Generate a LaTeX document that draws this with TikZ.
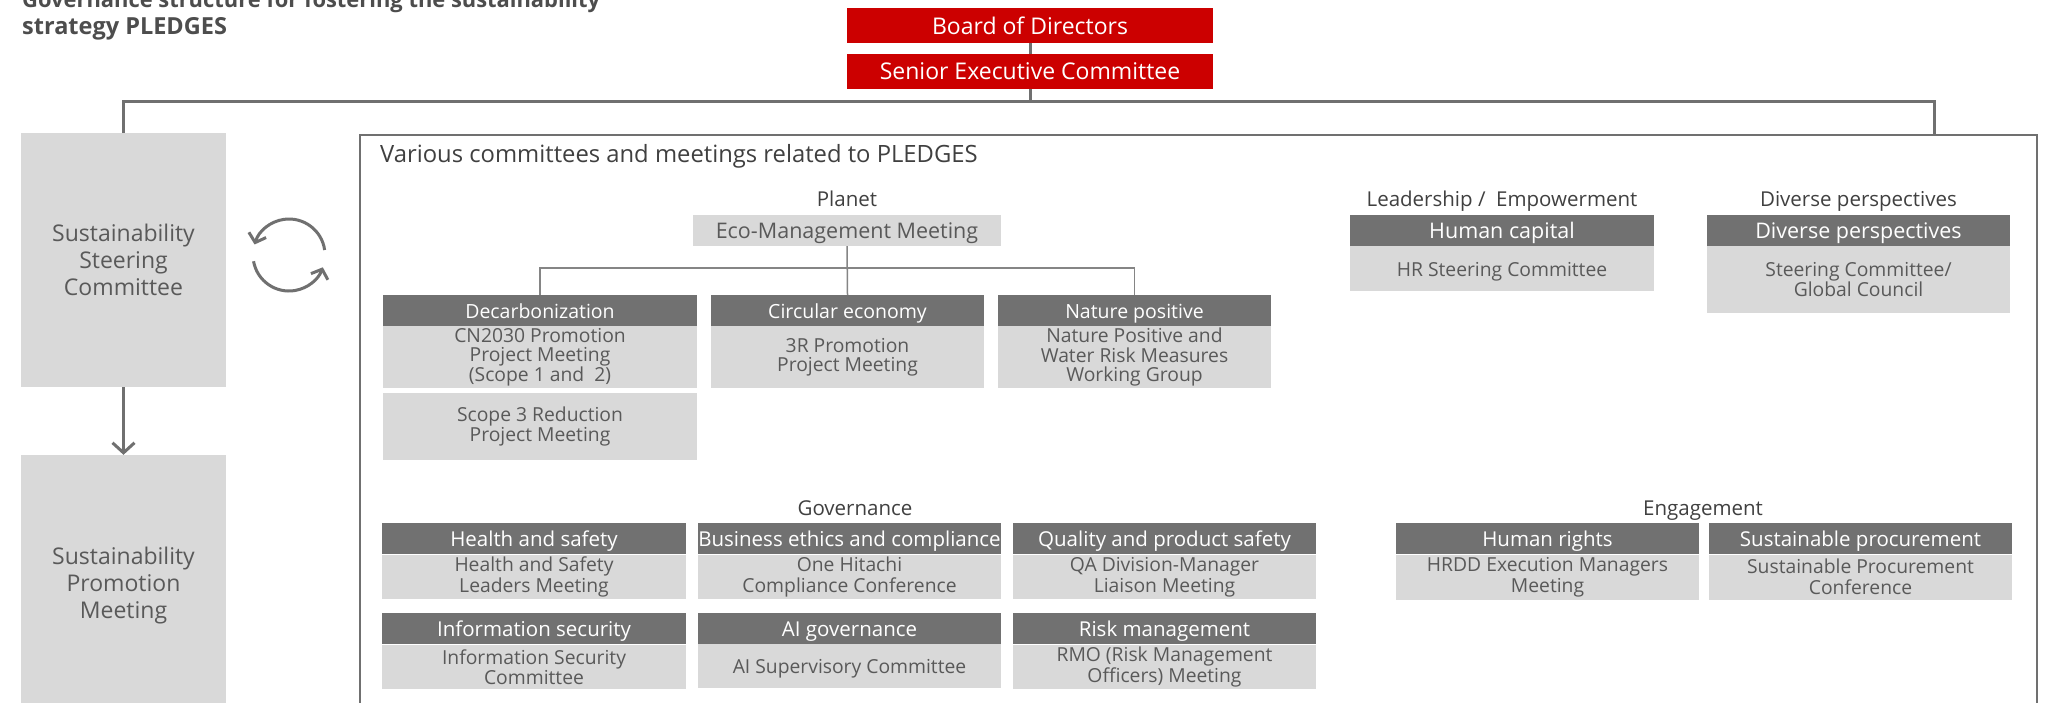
\documentclass[tikz,border=0pt]{standalone}
\usepackage{fontspec}
\setmainfont{Open Sans}
\usetikzlibrary{arrows.meta}
\definecolor{hred}{HTML}{CC0000}
\definecolor{dgray}{HTML}{717171}
\definecolor{lgray}{HTML}{D9D9D9}
\definecolor{tgray}{HTML}{595959}
\definecolor{lblc}{HTML}{404040}
\definecolor{linec}{HTML}{707070}
\definecolor{titlec}{HTML}{4D4D4D}
\tikzset{
  redbox/.style={fill=hred, text=white, inner sep=0pt, minimum width=366pt, minimum height=35pt, font=\fontsize{23}{27}\selectfont},
  sidebox/.style={fill=lgray, text=tgray, inner sep=0pt, align=center, minimum width=205pt, font=\fontsize{23}{27}\selectfont},
  hdr/.style={fill=dgray, text=white, inner sep=0pt, minimum height=31pt, text height=20pt, text depth=3.6pt, font=\fontsize{20.5}{24}\selectfont},
  bdy/.style={fill=lgray, text=tgray, inner sep=0pt, align=center, font=\fontsize{19.3}{20.5}\selectfont},
  onel/.style={text height=18.5pt, text depth=3.2pt},
  lbl/.style={text=lblc, inner sep=0pt, anchor=base, font=\fontsize{20.5}{24}\selectfont},
  ttl/.style={text=titlec, inner sep=0pt, anchor=base west, font=\fontsize{22}{27}\selectfont\bfseries},
  conn/.style={draw=linec, line width=3pt},
  tree/.style={draw=linec!85, line width=1.5pt},
  barb/.style={-{Straight Barb[length=10pt,width=22pt]}}
}
\begin{document}
\begin{tikzpicture}[x=1pt,y=-1pt]
\useasboundingbox (0,0) rectangle (2049,702);
\fill[white] (0,0) rectangle (2049,702);

% title
\node[ttl, font=\fontsize{21.9}{27}\selectfont\bfseries] (t1) at (22,7) {Governance structure for fostering the sustainability};
\node[ttl, font=\fontsize{23.5}{27}\selectfont\bfseries] (t2) at (22,34) {strategy PLEDGES};

% top boxes
\node[redbox] (bod) at (1030,25.5) {Board of Directors};
\node[redbox] (sec) at (1030,71.5) {Senior Executive Committee};

% left boxes
\node[sidebox, minimum height=254pt] (steer) at (123.5,260) {Sustainability\\Steering\\Committee};
\node[sidebox, minimum height=262pt] (prom) at (123.5,586) {Sustainability\\Promotion\\Meeting};

% frame
\node[draw=linec, line width=2pt, inner sep=0pt, minimum width=1677pt, minimum height=620pt, anchor=north west] (frame) at (359,134) {};
\node[text=lblc, inner sep=0pt, anchor=base west, font=\fontsize{23.8}{27}\selectfont] (various) at (380,162) {Various committees and meetings related to PLEDGES};

% connectors top
\coordinate (tl) at (123.5,101);
\coordinate (tr) at (1934,101);
\coordinate (fr) at (1934,134);
\draw[conn] (bod.south) -- (sec.north);
\draw[conn] (sec.south) -- (sec.south |- tl);
\draw[conn] (steer.north) -- (tl) -- (tr) -- (fr);
\draw[conn, barb] (steer.south) -- (prom.north);

% cycle icon
\coordinate (cyc) at (289,255);
\draw[conn, -{Straight Barb[length=8pt,width=18pt]}] ([shift={(-8:36)}]cyc) arc[start angle=-8, end angle=-163, radius=36];
\draw[conn, -{Straight Barb[length=8pt,width=18pt]}] ([shift={(-190:36)}]cyc) arc[start angle=-190, end angle=-340, radius=36];

% Planet
\node[lbl] (planet) at (847,206) {Planet};
\node[bdy, minimum width=308pt, minimum height=31pt, text height=20pt, text depth=3.6pt, font=\fontsize{21.5}{24}\selectfont] (eco) at (847,230.5) {Eco-Management Meeting};
\node[hdr, minimum width=314pt, font=\fontsize{19.5}{23}\selectfont] (decH) at (540,310.5) {Decarbonization};
\node[bdy, minimum width=314pt, minimum height=62pt, font=\fontsize{19.3}{19.5}\selectfont] (decB) at (540,357) {CN2030 Promotion\\Project Meeting\\(Scope 1 and\ \ 2)};
\node[bdy, minimum width=314pt, minimum height=67pt, font=\fontsize{19.3}{19.5}\selectfont] (scB) at (540,426.5) {Scope 3 Reduction\\Project Meeting};
\node[hdr, minimum width=273pt, font=\fontsize{19.5}{23}\selectfont] (cirH) at (847.5,310.5) {Circular economy};
\node[bdy, minimum width=273pt, minimum height=62pt, font=\fontsize{19.3}{19.5}\selectfont] (cirB) at (847.5,357) {3R Promotion\\Project Meeting};
\node[hdr, minimum width=273pt, font=\fontsize{19.5}{23}\selectfont] (natH) at (1134.5,310.5) {Nature positive};
\node[bdy, minimum width=273pt, minimum height=62pt, font=\fontsize{19.3}{19.5}\selectfont] (natB) at (1134.5,357) {Nature Positive and\\Water Risk Measures\\Working Group};
\coordinate (pj) at (847,268);
\draw[tree] (eco.south) -- (cirH.north);
\draw[tree] (decH.north) -- (decH.north |- pj) -- (natH.north |- pj) -- (natH.north);

% Leadership / Empowerment
\node[lbl] (lead) at (1502,206) {Leadership /\ \ Empowerment};
\node[hdr, minimum width=304pt, font=\fontsize{21.5}{24}\selectfont] (hcH) at (1502,230.5) {Human capital};
\node[bdy, onel, minimum width=304pt, minimum height=45pt] (hcB) at (1502,268.5) {HR Steering Committee};

% Diverse perspectives
\node[lbl] (divl) at (1858.5,206) {Diverse perspectives};
\node[hdr, minimum width=303pt, font=\fontsize{21.5}{24}\selectfont] (dpH) at (1858.5,230.5) {Diverse perspectives};
\node[bdy, minimum width=303pt, minimum height=67pt] (dpB) at (1858.5,279.5) {Steering Committee/\\Global Council};

% Governance
\node[lbl] (gov) at (855,515) {Governance};
\node[hdr, minimum width=304pt] (hsH) at (534,538.5) {Health and safety};
\node[bdy, minimum width=304pt, minimum height=44pt] (hsB) at (534,577) {Health and Safety\\Leaders Meeting};
\node[hdr, minimum width=303pt] (beH) at (849.5,538.5) {Business ethics and compliance};
\node[bdy, minimum width=303pt, minimum height=44pt] (beB) at (849.5,577) {One Hitachi\\Compliance Conference};
\node[hdr, minimum width=303pt] (qpH) at (1164.5,538.5) {Quality and product safety};
\node[bdy, minimum width=303pt, minimum height=44pt] (qpB) at (1164.5,577) {QA Division-Manager\\Liaison Meeting};
\node[hdr, minimum width=304pt] (isH) at (534,628.5) {Information security};
\node[bdy, minimum width=304pt, minimum height=44pt] (isB) at (534,667) {Information Security\\Committee};
\node[hdr, minimum width=303pt] (aiH) at (849.5,628.5) {AI governance};
\node[bdy, onel, minimum width=303pt, minimum height=44pt] (aiB) at (849.5,666) {AI Supervisory Committee};
\node[hdr, minimum width=303pt] (rmH) at (1164.5,628.5) {Risk management};
\node[bdy, minimum width=303pt, minimum height=44pt] (rmB) at (1164.5,667) {RMO (Risk Management\\Officers) Meeting};

% Engagement
\node[lbl] (eng) at (1703,515) {Engagement};
\node[hdr, minimum width=303pt] (hrH) at (1547.5,538.5) {Human rights};
\node[bdy, minimum width=303pt, minimum height=45pt] (hrB) at (1547.5,577) {HRDD Execution Managers\\Meeting};
\node[hdr, minimum width=303pt] (spH) at (1860.5,538.5) {Sustainable procurement};
\node[bdy, minimum width=303pt, minimum height=45pt] (spB) at (1860.5,577) {Sustainable Procurement\\Conference};
\end{tikzpicture}
\end{document}
